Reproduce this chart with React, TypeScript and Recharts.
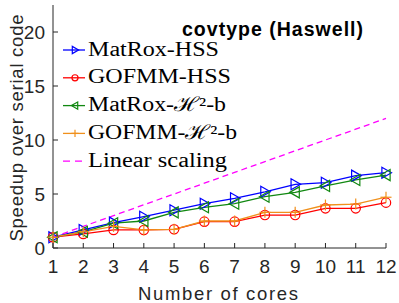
import React from 'react';
import { LineChart, Line, XAxis, YAxis } from 'recharts';

const cores = [1, 2, 3, 4, 5, 6, 7, 8, 9, 10, 11, 12];
const matroxHSS = [1.0, 1.67, 2.35, 2.9, 3.5, 4.1, 4.6, 5.2, 5.9, 6.05, 6.7, 6.97];
const gofmmHSS = [1.0, 1.3, 1.67, 1.67, 1.73, 2.44, 2.44, 3.05, 3.05, 3.67, 3.67, 4.2];
const matroxH2b = [1.0, 1.5, 2.3, 2.5, 3.3, 3.77, 4.1, 4.75, 5.15, 5.75, 6.3, 6.75];
const gofmmH2b = [1.0, 1.5, 2.0, 1.67, 1.73, 2.5, 2.5, 3.3, 3.3, 3.98, 4.07, 4.7];
const linearScaling = [1, 2, 3, 4, 5, 6, 7, 8, 9, 10, 11, 12];
const yTicks = [0, 5, 10, 15, 20];
const seriesNames = ['MatRox-HSS', 'GOFMM-HSS', 'MatRox-ℋ²-b', 'GOFMM-ℋ²-b', 'Linear scaling'];
const chartTitle = 'covtype (Haswell)';
const xLabel = 'Number of cores';
const yLabel = 'Speedup over serial code';

const data = cores.map((c, i) => ({
  c,
  a: matroxHSS[i],
  b: gofmmHSS[i],
  g: matroxH2b[i],
  o: gofmmH2b[i],
  l: linearScaling[i],
}));

const BLUE = '#0000ff';
const RED = '#ff0000';
const GREEN = '#118811';
const ORANGE = '#f0901c';
const MAGENTA = '#ff00ff';
const AX = '#262626';
const SANS = '"Liberation Sans", Arial, Helvetica, sans-serif';
const SERIF = '"Liberation Serif", "DejaVu Serif", serif';

const shape = (kind: string, color: string, r: number = 5.5) => (props: any) => {
  const { cx, cy, index } = props;
  if (cx == null || cy == null) return <g key={index} />;
  if (kind === 'right')
    return <polygon key={index} points={`${cx + r},${cy} ${cx - r * 0.75},${cy - r} ${cx - r * 0.75},${cy + r}`} fill="none" stroke={color} strokeWidth={1.2} />;
  if (kind === 'left')
    return <polygon key={index} points={`${cx - r},${cy} ${cx + r * 0.75},${cy - r} ${cx + r * 0.75},${cy + r}`} fill="none" stroke={color} strokeWidth={1.2} />;
  if (kind === 'circle')
    return <circle key={index} cx={cx} cy={cy} r={r * 0.85} fill="none" stroke={color} strokeWidth={1.2} />;
  if (kind === 'plus')
    return (
      <g key={index} stroke={color} strokeWidth={1.2}>
        <line x1={cx - r} y1={cy} x2={cx + r} y2={cy} />
        <line x1={cx} y1={cy - r} x2={cx} y2={cy + r} />
      </g>
    );
  return <g key={index} />;
};

const legendItems = [
  { color: BLUE, kind: 'right', dash: undefined as string | undefined, len: 131 },
  { color: RED, kind: 'circle', dash: undefined, len: 143 },
  { color: GREEN, kind: 'left', dash: undefined, len: 138 },
  { color: ORANGE, kind: 'plus', dash: undefined, len: 149 },
  { color: MAGENTA, kind: 'none', dash: '7 5', len: 139 },
];

export default function App() {
  return (
    <div style={{ position: 'absolute', left: 0, top: 0, width: 399, height: 303, background: '#fff' }}>
      <LineChart width={399} height={303} data={data} margin={{ top: 5, right: 13, bottom: 0, left: 0 }}>
        <XAxis
          dataKey="c"
          type="number"
          domain={[1, 12]}
          ticks={cores}
          interval={0}
          height={55}
          tickSize={-5}
          tickMargin={17}
          stroke={AX}
          tick={{ fill: AX, fontSize: 19, fontFamily: SANS }}
        />
        <XAxis
          xAxisId="top"
          orientation="top"
          dataKey="c"
          type="number"
          domain={[1, 12]}
          ticks={cores}
          interval={0}
          height={0}
          tickSize={-5}
          stroke={AX}
          tickFormatter={() => ''}
        />
        <YAxis
          type="number"
          domain={[0, 22.5]}
          ticks={yTicks}
          interval={0}
          width={53}
          tickSize={-5}
          tickMargin={13}
          stroke={AX}
          tick={{ fill: AX, fontSize: 19, fontFamily: SANS }}
        />
        <YAxis
          yAxisId="right"
          orientation="right"
          type="number"
          domain={[0, 22.5]}
          ticks={yTicks}
          interval={0}
          width={0}
          tickSize={-5}
          stroke={AX}
          tickFormatter={() => ''}
        />
        <Line dataKey="a" stroke={BLUE} strokeWidth={1.3} dot={shape('right', BLUE)} isAnimationActive={false} />
        <Line dataKey="b" stroke={RED} strokeWidth={1.3} dot={shape('circle', RED)} isAnimationActive={false} />
        <Line dataKey="g" stroke={GREEN} strokeWidth={1.3} dot={shape('left', GREEN)} isAnimationActive={false} />
        <Line dataKey="o" stroke={ORANGE} strokeWidth={1.3} dot={shape('plus', ORANGE)} isAnimationActive={false} />
        <Line dataKey="l" stroke={MAGENTA} strokeWidth={1.3} strokeDasharray="6 4" dot={false} isAnimationActive={false} />
      </LineChart>
      <svg width={399} height={303} style={{ position: 'absolute', left: 0, top: 0, pointerEvents: 'none' }}>
        <text x={182} y={36} fontFamily={SANS} fontWeight="bold" fontSize={19.5} fill="#000" textLength={181} lengthAdjust="spacing">
          {chartTitle}
        </text>
        {legendItems.map((it, i) => {
          const ly = 50 + i * 27.8;
          const Dot = shape(it.kind, it.color, 3.6);
          return (
            <g key={i}>
              <line x1={63} y1={ly} x2={85} y2={ly} stroke={it.color} strokeWidth={1.3} strokeDasharray={it.dash} />
              {Dot({ cx: 75, cy: ly, index: i })}
              <text x={88} y={ly + 5.5} fontFamily={SERIF} fontSize={20} fill="#000" textLength={it.len} lengthAdjust="spacingAndGlyphs">
                {seriesNames[i]}
              </text>
            </g>
          );
        })}
        <text x={218} y={300} textAnchor="middle" fontFamily={SANS} fontSize={18.5} fill={AX} textLength={160} lengthAdjust="spacing">
          {xLabel}
        </text>
        <text
          transform="translate(23,128) rotate(-90)"
          x={0}
          y={0}
          textAnchor="middle"
          fontFamily={SANS}
          fontSize={18.5}
          fill={AX}
          textLength={227}
          lengthAdjust="spacing"
        >
          {yLabel}
        </text>
      </svg>
    </div>
  );
}
